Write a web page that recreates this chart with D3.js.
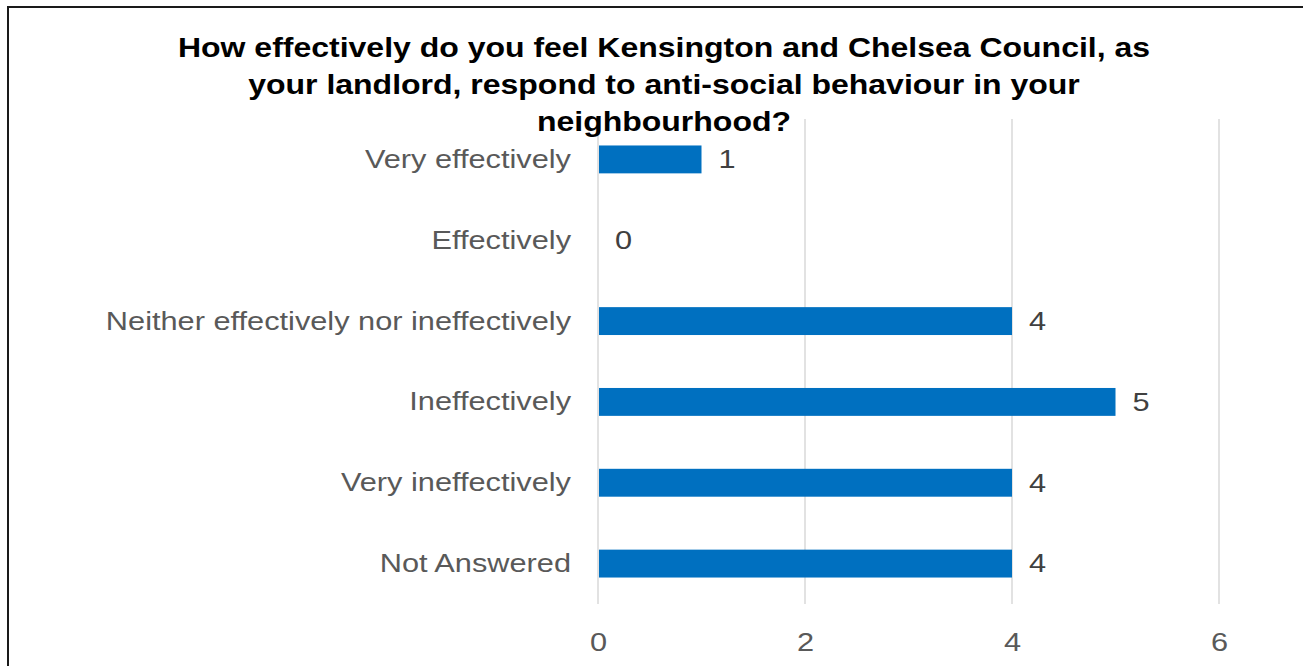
<!DOCTYPE html>
<html>
<head>
<meta charset="utf-8">
<script src="https://cdn.jsdelivr.net/npm/d3@7"></script>
<style>
  html, body { margin: 0; padding: 0; background: #fff; }
  svg { display: block; }
</style>
</head>
<body>
<svg id="chart" width="1303" height="666"></svg>
<script>
// Survey responses
const categories = [
  "Very effectively",
  "Effectively",
  "Neither effectively nor ineffectively",
  "Ineffectively",
  "Very ineffectively",
  "Not Answered"
];
const counts = [1, 0, 4, 5, 4, 4];
const tickValues = [0, 2, 4, 6];
const titleLines = [
  "How effectively do you feel Kensington and Chelsea Council, as",
  "your landlord, respond to anti-social behaviour in your",
  "neighbourhood?"
];

const svg = d3.select("#chart");
const W = 1303, H = 666;
const font = "'Liberation Sans', Arial, sans-serif";
const labelStretch = 1.16;    // horizontal widening of axis/value text
const titleStretch = 1.143;   // horizontal widening of the title
const labelSize = 26.5;
const titleSize = 28;

// outer frame
svg.append("rect")
  .attr("x", 8).attr("y", 7)
  .attr("width", W).attr("height", H)
  .attr("fill", "none")
  .attr("stroke", "#1a1a1a")
  .attr("stroke-width", 2);

const plot = { left: 598, right: 1219, top: 119, bottom: 604 };

const x = d3.scaleLinear().domain([0, 6]).range([plot.left, plot.right]);
const y = d3.scaleBand().domain(categories)
  .range([plot.top, plot.bottom])
  .paddingInner(0.655).paddingOuter(0.3275);

// vertical gridlines
svg.append("g")
  .selectAll("line")
  .data(tickValues)
  .join("line")
  .attr("x1", d => x(d)).attr("x2", d => x(d))
  .attr("y1", plot.top).attr("y2", plot.bottom)
  .attr("stroke", "#d9d9d9")
  .attr("stroke-width", 1.5);

// bars
svg.append("g")
  .selectAll("rect")
  .data(categories)
  .join("rect")
  .attr("x", x(0) + 1)
  .attr("y", d => y(d))
  .attr("width", (d, i) => Math.max(0, x(counts[i]) - x(0) - 1))
  .attr("height", y.bandwidth())
  .attr("fill", "#0070c0");

// value labels
svg.append("g")
  .selectAll("text")
  .data(categories)
  .join("text")
  .attr("transform", (d, i) =>
    `translate(${x(counts[i]) + 17},${y(d) + y.bandwidth() / 2}) scale(${labelStretch},1)`)
  .attr("dy", "0.33em")
  .attr("font-family", font)
  .attr("font-size", labelSize)
  .attr("fill", "#404040")
  .text((d, i) => counts[i]);

// category axis
const yAxis = svg.append("g")
  .attr("transform", `translate(${plot.left - 27},0)`)
  .call(d3.axisLeft(y).tickSize(0).tickPadding(0));
yAxis.select(".domain").remove();
yAxis.selectAll("text")
  .attr("transform", `scale(${labelStretch},1)`)
  .attr("font-family", font)
  .attr("font-size", labelSize)
  .attr("fill", "#595959");

// value axis
const xAxis = svg.append("g")
  .attr("transform", `translate(0,${plot.bottom + 28})`)
  .call(d3.axisBottom(x).tickValues(tickValues).tickSize(0).tickPadding(0).tickFormat(d3.format("d")));
xAxis.select(".domain").remove();
xAxis.selectAll("text")
  .attr("transform", `scale(${labelStretch},1)`)
  .attr("font-family", font)
  .attr("font-size", labelSize)
  .attr("fill", "#595959");

// title
svg.append("g")
  .attr("transform", `translate(664,0) scale(${titleStretch},1)`)
  .append("text")
  .attr("text-anchor", "middle")
  .attr("font-family", font)
  .attr("font-weight", "bold")
  .attr("font-size", titleSize)
  .attr("fill", "#000")
  .selectAll("tspan")
  .data(titleLines)
  .join("tspan")
  .attr("x", 0)
  .attr("y", (d, i) => 57 + i * 37)
  .text(d => d);
</script>
</body>
</html>
